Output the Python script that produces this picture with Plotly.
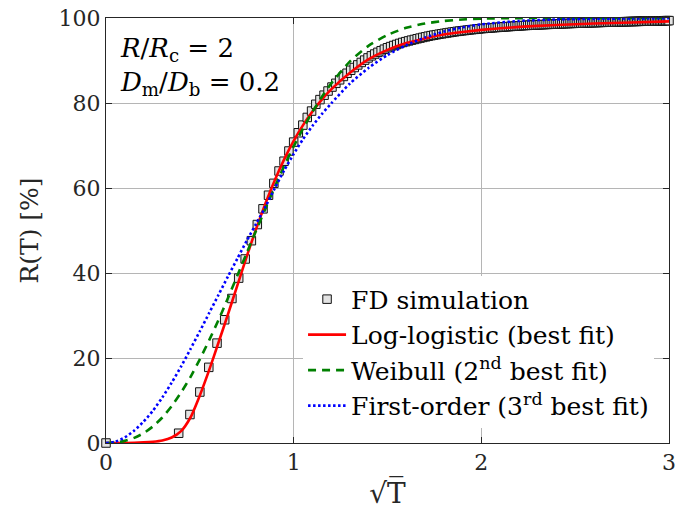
import numpy as np
import plotly.graph_objects as go

# ---- FD simulation: recovery R(T) [%] at dimensionless times T ----
T_fd = [0.00, 0.15, 0.20, 0.25, 0.30, 0.35, 0.40, 0.45, 0.50, 0.55,
        0.60, 0.65, 0.70, 0.75, 0.80, 0.85, 0.90, 0.95, 1.00, 1.05,
        1.10, 1.15, 1.20, 1.25, 1.30, 1.35, 1.40, 1.45, 1.50, 1.55,
        1.60, 1.65, 1.70, 1.75, 1.80, 1.85, 1.90, 1.95, 2.00, 2.05,
        2.10, 2.15, 2.20, 2.25, 2.30, 2.35, 2.40, 2.45, 2.50, 2.55,
        2.60, 2.65, 2.70, 2.75, 2.80, 2.85, 2.90, 2.95, 3.00, 3.05,
        3.10, 3.15, 3.20, 3.25, 3.30, 3.35, 3.40, 3.45, 3.50, 3.55,
        3.60, 3.65, 3.70, 3.75, 3.80, 3.85, 3.90, 3.95, 4.00, 4.05,
        4.10, 4.15, 4.20, 4.25, 4.30, 4.35, 4.40, 4.45, 4.50, 4.55,
        4.60, 4.65, 4.70, 4.75, 4.80, 4.85, 4.90, 4.95, 5.00, 5.05,
        5.10, 5.15, 5.20, 5.25, 5.30, 5.35, 5.40, 5.45, 5.50, 5.55,
        5.60, 5.65, 5.70, 5.75, 5.80, 5.85, 5.90, 5.95, 6.00, 6.05,
        6.10, 6.15, 6.20, 6.25, 6.30, 6.35, 6.40, 6.45, 6.50, 6.55,
        6.60, 6.65, 6.70, 6.75, 6.80, 6.85, 6.90, 6.95, 7.00, 7.05,
        7.10, 7.15, 7.20, 7.25, 7.30, 7.35, 7.40, 7.45, 7.50, 7.55,
        7.60, 7.65, 7.70, 7.75, 7.80, 7.85, 7.90, 7.95, 8.00, 8.05,
        8.10, 8.15, 8.20, 8.25, 8.30, 8.35, 8.40, 8.45, 8.50, 8.55,
        8.60, 8.65, 8.70, 8.75, 8.80, 8.85, 8.90, 8.95, 9.00]

R_fd = [0.00, 2.30, 6.70, 12.00, 17.80, 23.50, 29.00, 34.00, 38.80, 43.30,
        47.60, 51.40, 55.10, 58.30, 61.10, 64.00, 66.30, 68.70, 70.80, 73.00,
        74.80, 76.60, 78.10, 79.70, 80.80, 81.84, 82.82, 83.75, 84.63, 85.46,
        86.25, 87.00, 87.70, 88.35, 88.96, 89.54, 90.09, 90.61, 91.10, 91.52,
        91.92, 92.30, 92.66, 93.00, 93.27, 93.53, 93.78, 94.02, 94.25, 94.43,
        94.61, 94.79, 94.95, 95.12, 95.27, 95.43, 95.57, 95.72, 95.85, 95.96,
        96.07, 96.18, 96.28, 96.38, 96.48, 96.58, 96.67, 96.76, 96.85, 96.92,
        96.99, 97.06, 97.13, 97.20, 97.26, 97.32, 97.38, 97.44, 97.50, 97.54,
        97.59, 97.63, 97.67, 97.71, 97.75, 97.79, 97.83, 97.87, 97.91, 97.94,
        97.98, 98.02, 98.05, 98.08, 98.12, 98.15, 98.18, 98.22, 98.25, 98.27,
        98.30, 98.32, 98.34, 98.37, 98.39, 98.41, 98.44, 98.46, 98.48, 98.50,
        98.52, 98.54, 98.56, 98.58, 98.60, 98.62, 98.64, 98.66, 98.68, 98.70,
        98.71, 98.73, 98.74, 98.76, 98.78, 98.79, 98.81, 98.82, 98.84, 98.85,
        98.87, 98.88, 98.90, 98.91, 98.93, 98.94, 98.95, 98.97, 98.98, 98.99,
        99.00, 99.02, 99.03, 99.04, 99.05, 99.06, 99.08, 99.09, 99.10, 99.11,
        99.12, 99.13, 99.14, 99.15, 99.16, 99.17, 99.18, 99.19, 99.20, 99.21,
        99.22, 99.23, 99.24, 99.25, 99.26, 99.27, 99.28, 99.29, 99.30, 99.31,
        99.32, 99.33, 99.34, 99.34, 99.35, 99.36, 99.37, 99.38, 99.38]

# ---- fitted curves, sampled against sqrt(T) ----
sqrtT_ll = [0.00, 0.10, 0.20, 0.25, 0.30, 0.35, 0.40, 0.45, 0.50, 0.55,
            0.60, 0.65, 0.70, 0.75, 0.80, 0.85, 0.90, 0.95, 1.00, 1.05,
            1.10, 1.15, 1.20, 1.30, 1.40, 1.50, 1.60, 1.70, 1.80, 1.90,
            2.00, 2.20, 2.40, 2.60, 2.80, 3.00]
R_loglogistic = [0.00, 0.01, 0.15, 0.30, 0.60, 1.30, 2.80, 6.00, 11.20, 17.20,
                 23.70, 30.30, 37.10, 43.90, 50.40, 56.40, 61.90, 66.80, 71.10, 74.80,
                 78.00, 80.80, 83.20, 87.10, 90.30, 92.50, 94.10, 95.20, 96.10, 96.70,
                 97.20, 97.90, 98.35, 98.70, 98.95, 99.20]

sqrtT_wb = [0.00, 0.05, 0.10, 0.15, 0.20, 0.25, 0.30, 0.35, 0.40, 0.45,
            0.50, 0.55, 0.60, 0.65, 0.70, 0.75, 0.80, 0.85, 0.90, 0.95,
            1.00, 1.05, 1.10, 1.15, 1.20, 1.30, 1.40, 1.50, 1.60, 1.70,
            1.80, 1.90, 2.00, 2.20, 2.50, 3.00]
R_weibull = [0.00, 0.10, 0.50, 1.20, 2.30, 3.90, 6.00, 8.70, 11.90, 15.50,
             19.70, 24.20, 29.00, 34.10, 39.40, 44.70, 50.00, 55.20, 60.30, 65.20,
             69.80, 74.00, 77.90, 81.40, 84.60, 89.80, 93.50, 96.00, 97.70, 98.70,
             99.30, 99.65, 99.85, 99.97, 100.00, 100.00]

sqrtT_fo = [0.00, 0.05, 0.10, 0.15, 0.20, 0.25, 0.30, 0.35, 0.40, 0.45,
            0.50, 0.55, 0.60, 0.65, 0.70, 0.75, 0.80, 0.85, 0.90, 0.95,
            1.00, 1.05, 1.10, 1.15, 1.20, 1.30, 1.40, 1.50, 1.60, 1.70,
            1.80, 1.90, 2.00, 2.20, 2.40, 2.60, 2.80, 3.00]
R_firstorder = [0.00, 0.30, 1.30, 2.90, 5.00, 7.60, 10.70, 14.20, 18.00, 22.10,
                26.30, 30.60, 34.90, 39.20, 43.40, 47.60, 51.60, 55.60, 60.00, 64.20,
                68.00, 71.50, 74.60, 77.40, 79.90, 84.60, 88.30, 91.30, 93.60, 95.40,
                96.80, 97.80, 98.50, 99.30, 99.65, 99.80, 99.90, 99.95]

x_ticks = [0, 1, 2, 3]
y_ticks = [0, 20, 40, 60, 80, 100]

FONT = "DejaVu Serif"
AX = "#262626"
GRID = "#b5b5b5"

fig = go.Figure()

fig.add_trace(go.Scatter(
    x=np.sqrt(np.array(T_fd)), y=R_fd, mode="markers", name="FD simulation",
    marker=dict(symbol="square", size=8.5, color="#e3e3e3",
                line=dict(color="#111111", width=1)),
    cliponaxis=False))

fig.add_trace(go.Scatter(
    x=sqrtT_ll, y=R_loglogistic, mode="lines", name="Log-logistic (best fit)",
    line=dict(color="#ff0000", width=2.6, shape="spline", smoothing=0.6)))

fig.add_trace(go.Scatter(
    x=sqrtT_wb, y=R_weibull, mode="lines",
    name="Weibull (2<sup>nd</sup> best fit)",
    line=dict(color="#008000", width=2.6, dash="8px,6px",
              shape="spline", smoothing=0.6)))

fig.add_trace(go.Scatter(
    x=sqrtT_fo, y=R_firstorder, mode="lines",
    name="First-order (3<sup>rd</sup> best fit)",
    line=dict(color="#0000ff", width=2.6, dash="2.5px,2.5px",
              shape="spline", smoothing=0.6)))

axis_common = dict(
    showline=True, linecolor=AX, linewidth=1, mirror="ticks",
    ticks="inside", ticklen=6, tickcolor=AX, tickwidth=1,
    showgrid=True, gridcolor=GRID, gridwidth=1, zeroline=False,
    ticklabeloverflow="allow",
    tickfont=dict(family=FONT, size=22, color=AX),
)

fig.update_xaxes(range=[0, 3], tickvals=x_ticks,
                 title=dict(text="√T\u0305", font=dict(family=FONT, size=28, color=AX),
                            standoff=8),
                 **axis_common)
fig.update_yaxes(range=[0, 100], tickvals=y_ticks,
                 title=dict(text="R(T) [%]", font=dict(family=FONT, size=25, color=AX),
                            standoff=12),
                 **axis_common)

fig.add_annotation(
    xref="paper", yref="paper", x=0.021, y=0.97, xanchor="left", yanchor="top",
    align="left", showarrow=False,
    text="<i>R</i>/<i>R</i><sub>c</sub> = 2<br><i>D</i><sub>m</sub>/<i>D</i><sub>b</sub> = 0.2",
    font=dict(family=FONT, size=26, color="#000000"))

fig.update_layout(
    width=681, height=522,
    margin=dict(l=106, r=5, t=18, b=79),
    paper_bgcolor="white", plot_bgcolor="white",
    font=dict(family=FONT, color="#000000"),
    legend=dict(x=0.35, y=0.392, xanchor="left", yanchor="top",
                bgcolor="white", borderwidth=0, itemwidth=38,
                font=dict(family=FONT, size=25, color="#000000"),
                tracegroupgap=0),
    showlegend=True,
)

fig.write_html("out.html")
